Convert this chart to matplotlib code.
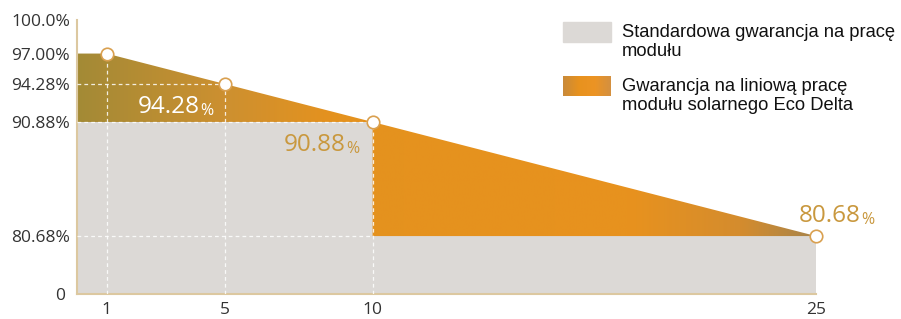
import numpy as np
import matplotlib
matplotlib.use("Agg")
import matplotlib.pyplot as plt
from matplotlib.colors import LinearSegmentedColormap
from matplotlib.patches import Polygon, Rectangle

# data
years = [1, 5, 10, 25]
eco_values = [97.00, 94.28, 90.88, 80.68]
start_value = 97.00
std_years = [0, 10, 25]
std_values = [90.88, 80.68, 80.68]
ytick_vals = [75.5, 80.68, 90.88, 94.28, 97.00, 100.0]
ytick_labels = ["0", "80.68%", "90.88%", "94.28%", "97.00%", "100.0%"]
legend_labels = ["Standardowa gwarancja na pracę\nmodułu",
                 "Gwarancja na liniową pracę\nmodułu solarnego Eco Delta"]

grey = "#dcd9d6"
spine_col = "#dcc8a0"
gold_txt = "#c9983e"
grad = LinearSegmentedColormap.from_list(
    "eco", [(0, "#a38a36"), (0.2, "#cd9030"), (0.34, "#e4921f"),
            (0.75, "#e8921e"), (0.9, "#d48c2e"), (1, "#a8844a")])

fig = plt.figure(figsize=(9.01, 3.19), dpi=100)
ax = fig.add_axes([77 / 901, 1 - 294 / 319, (816 - 77) / 901, (294 - 20) / 319])
ax.set_xlim(0, 25)
ax.set_ylim(75.5, 100)

# standard warranty (grey step area)
ax.fill_between(std_years, std_values, 75.5, step="post", color=grey, lw=0, zorder=1)

# eco delta area with horizontal gradient
top = [(0, start_value)] + list(zip(years, eco_values))
bottom = [(std_years[2], std_values[2]), (std_years[1], std_values[1]),
          (std_years[1], std_values[0]), (std_years[0], std_values[0])]
poly = Polygon(top + bottom, closed=True, facecolor="none", edgecolor="none")
ax.add_patch(poly)
im = ax.imshow(np.linspace(0, 1, 256)[None, :], cmap=grad, aspect="auto",
               extent=[0, 25, 75.5, 100], zorder=2, interpolation="bicubic")
im.set_clip_path(poly)

# white dashed guides
dash = dict(color="white", lw=0.9, ls=(0, (3, 2.5)), alpha=0.85, zorder=3)
for x, v in zip(years[:3], eco_values[:3]):
    ax.plot([x, x], [75.5, v], **dash)
ax.plot([0, 5], [94.28, 94.28], **dash)
ax.plot([0, 10], [90.88, 90.88], **dash)
ax.plot([0, 10], [80.68, 80.68], **dash)

# markers
ax.plot(years, eco_values, ls="none", marker="o", ms=9, mfc="white",
        mec="#d9a050", mew=1.2, zorder=5, clip_on=False)

# value labels
def value_label(x, y, num, color):
    t = ax.text(x, y, num, color=color, fontsize=17.5, family="Open Sans",
                va="baseline", ha="left", zorder=6)
    ax.annotate("%", xy=(1, 0), xycoords=t, xytext=(0.5, 0), textcoords="offset points",
                color=color, fontsize=11.5, family="Open Sans", va="bottom", ha="left")

value_label(2.05, 91.68, "94.28", "white")
value_label(7.0, 88.25, "90.88", gold_txt)
value_label(24.4, 81.95, "80.68", gold_txt)

# axes styling
for s in ["top", "right"]:
    ax.spines[s].set_visible(False)
for s in ["left", "bottom"]:
    ax.spines[s].set_color(spine_col)
    ax.spines[s].set_linewidth(1.5)
ax.set_xticks(years)
ax.set_yticks(ytick_vals)
ax.set_yticklabels(ytick_labels)
ax.tick_params(length=0, labelsize=12.5, labelcolor="#333333")
ax.tick_params(axis="x", pad=5.5)
ax.tick_params(axis="y", pad=5)
for lab in ax.get_xticklabels() + ax.get_yticklabels():
    lab.set_family("Open Sans")
ax.get_yticklabels()[0].set_x(-0.006)

# legend
fig.patches.append(Rectangle((563 / 901, 1 - 42 / 319), 48 / 901, 20 / 319,
                             transform=fig.transFigure, color=grey, figure=fig))
lax = fig.add_axes([563 / 901, 1 - 96 / 319, 48 / 901, 20 / 319])
lax.imshow(np.linspace(0, 1, 64)[None, :],
           cmap=LinearSegmentedColormap.from_list("lg", ["#c98a3a", "#e8921e", "#ec9424", "#d49040"]),
           aspect="auto", interpolation="bicubic")
lax.axis("off")
fig.text(622 / 901, 1 - 42 / 319, legend_labels[0], family="Liberation Sans",
         fontsize=13.2, color="#111111", va="center", linespacing=1.2)
fig.text(622 / 901, 1 - 96 / 319, legend_labels[1], family="Liberation Sans",
         fontsize=13.2, color="#111111", va="center", linespacing=1.2)

fig.savefig("out.png", dpi=100)
